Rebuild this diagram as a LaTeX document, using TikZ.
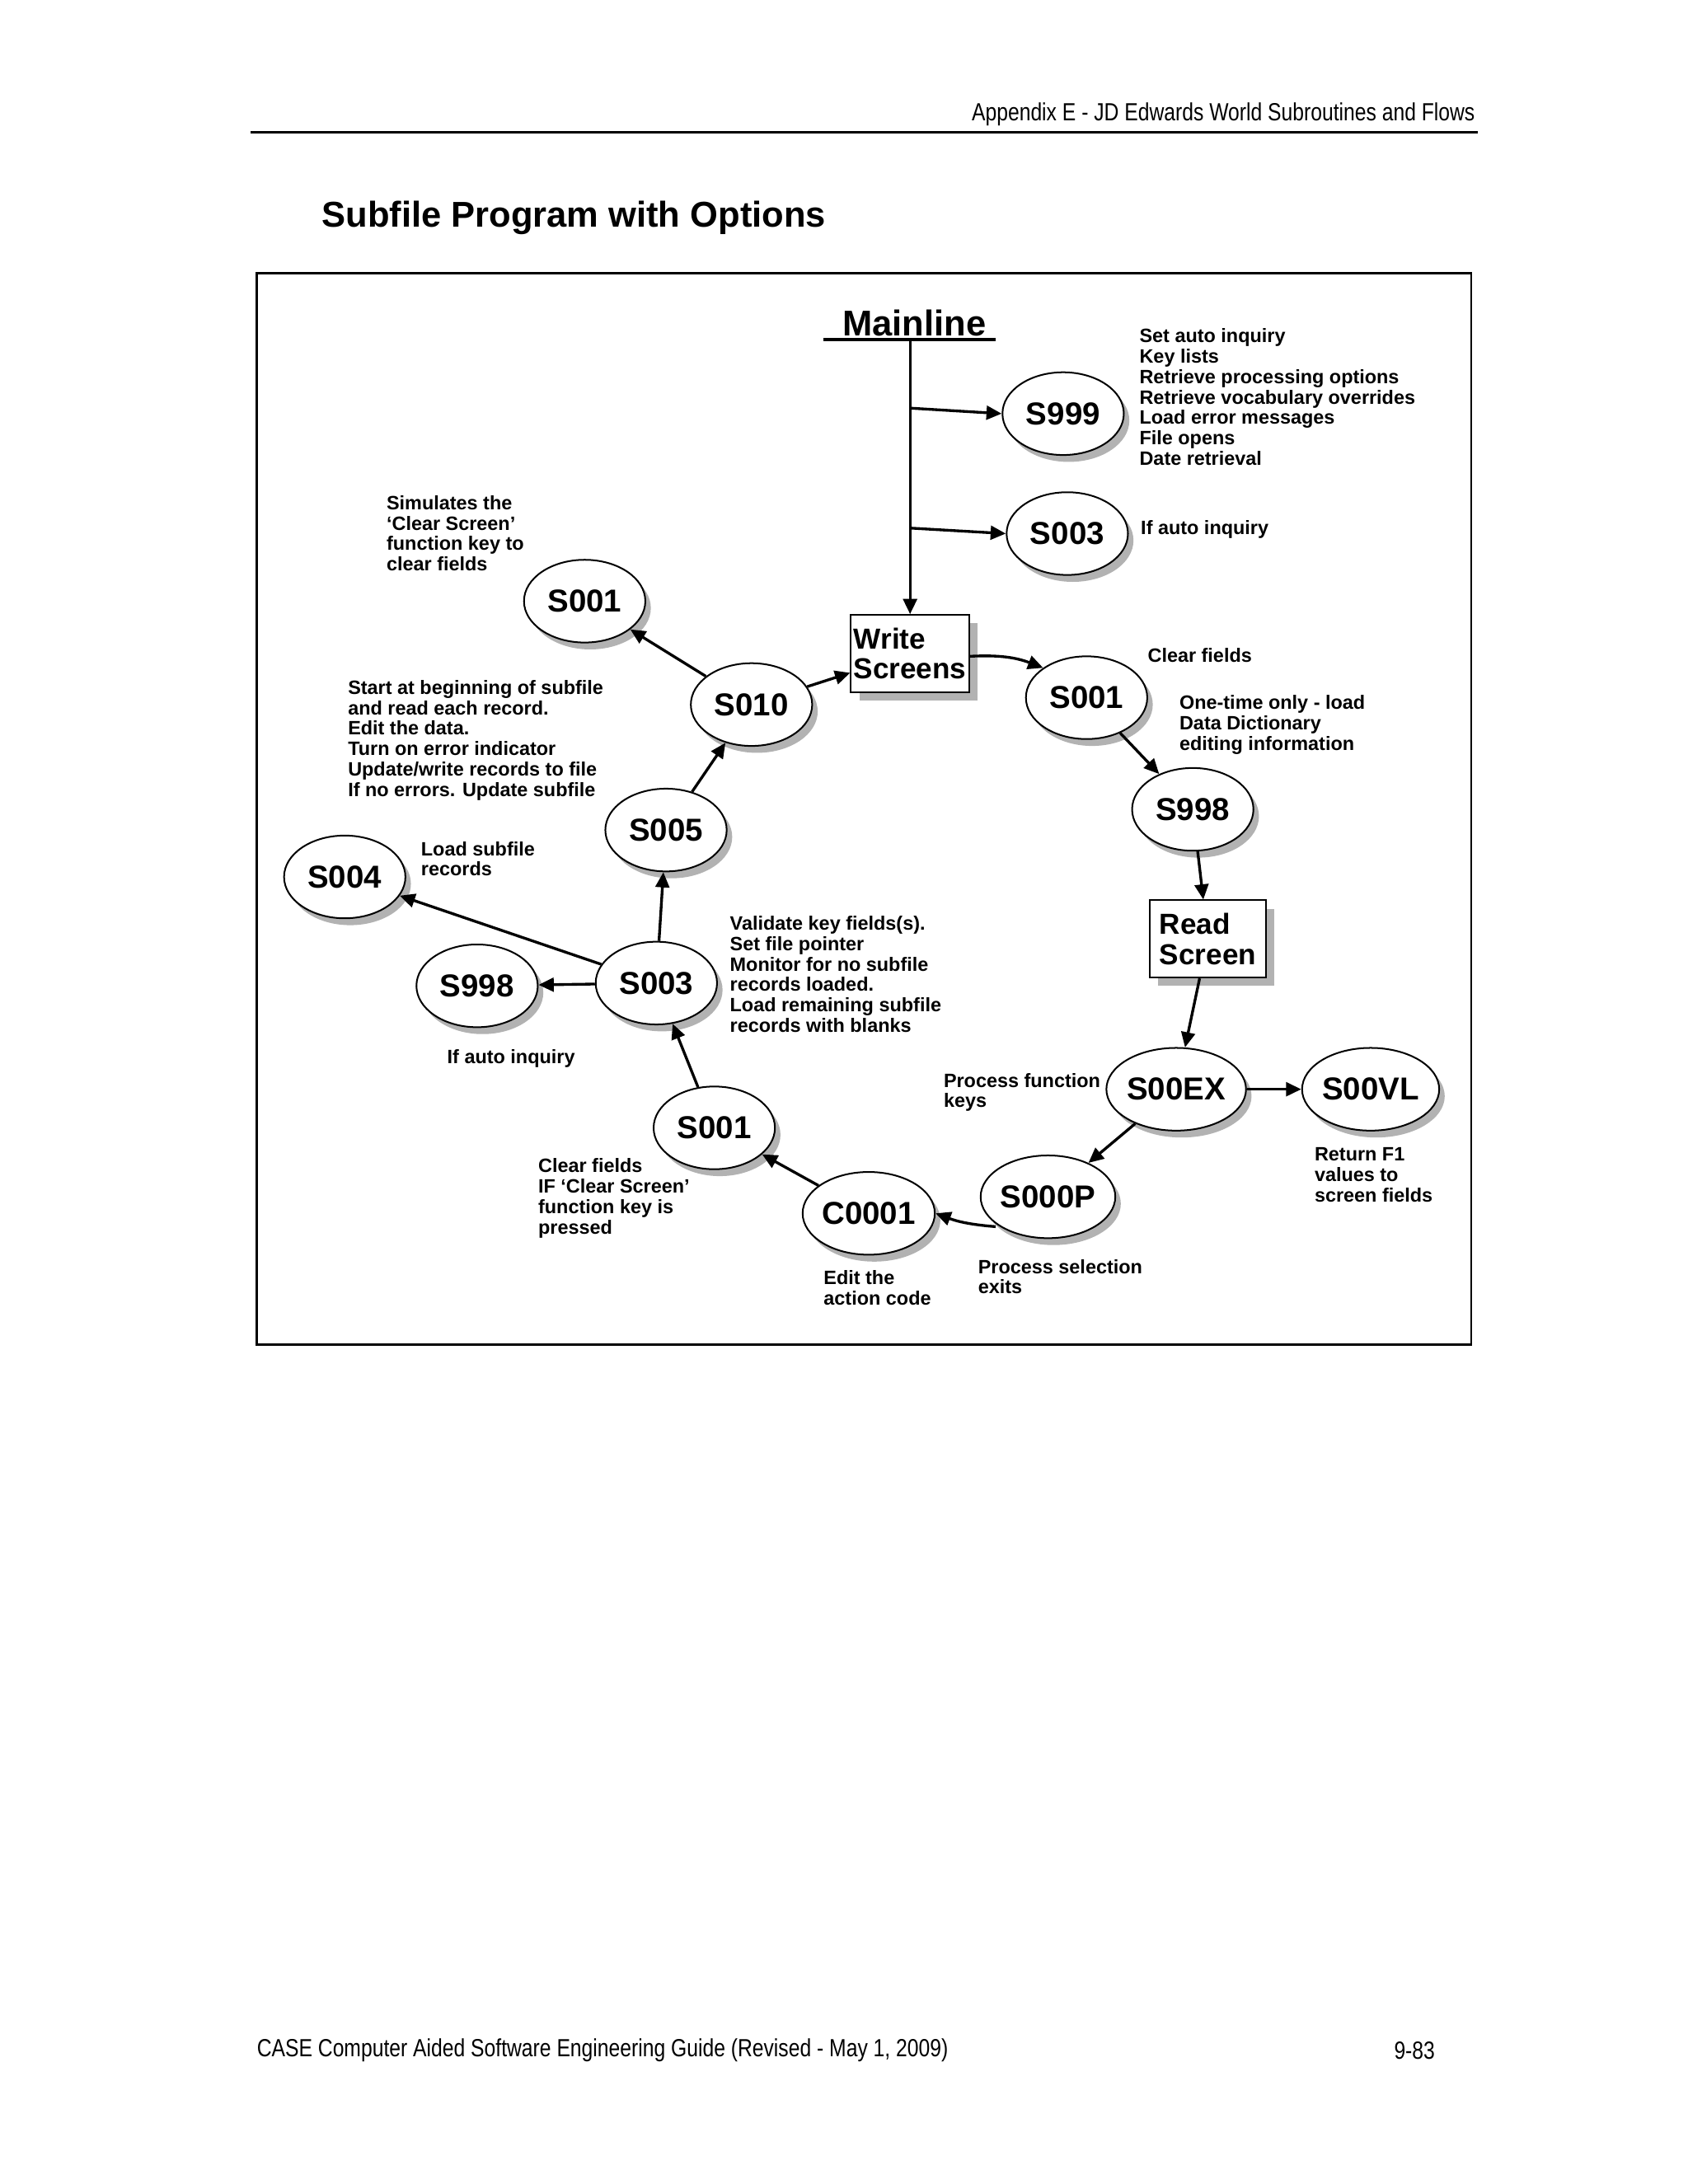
\documentclass[tikz,border=0pt]{standalone}
\usepackage{fontspec}
\setmainfont{Liberation Sans}
\usetikzlibrary{arrows.meta,shadows,shapes.geometric}
\begin{document}
\begin{tikzpicture}[x=0.5pt,y=-0.5pt,
  sub/.style={ellipse,draw,line width=0.6pt,fill=white,minimum width=44pt,minimum height=30pt,inner sep=0pt,
    font=\fontsize{11.5}{12}\selectfont\bfseries,
    drop shadow={shadow xshift=2pt,shadow yshift=-2.5pt,fill=black!30,opacity=1}},
  scr/.style={draw,line width=0.6pt,fill=white,minimum width=42pt,minimum height=28pt,inner sep=1pt,align=left,
    font=\fontsize{10.5}{11}\selectfont\bfseries,
    drop shadow={shadow xshift=3pt,shadow yshift=-3pt,fill=black!30,opacity=1}},
  note/.style={anchor=north west,align=left,inner sep=0pt,font=\fontsize{7}{7.4}\selectfont\bfseries},
  arr/.style={line width=1pt,-{Triangle[length=5.5pt,width=5pt]}}]
\useasboundingbox (0,0) rectangle (1224,1584);
% header/footer
\node[anchor=east,inner sep=0pt,font=\fontsize{9}{10}\selectfont] (hdr) at (1070,83) {\scalebox{0.82}[1]{Appendix E - JD Edwards World Subroutines and Flows}};
\draw[line width=0.8pt] (182,96) -- (1072,96);
\node[anchor=west,inner sep=0pt,font=\fontsize{13}{14}\selectfont\bfseries] (title) at (233,158) {Subfile Program with Options};
\draw[line width=0.8pt] (186,198) rectangle (1067,975);
\node[anchor=west,inner sep=0pt,font=\fontsize{9}{10}\selectfont] (ftr) at (186,1487) {\scalebox{0.82}[1]{CASE Computer Aided Software Engineering Guide (Revised - May 1, 2009)}};
\node[anchor=east,inner sep=0pt,font=\fontsize{9}{10}\selectfont] (pg) at (1041,1487) {\scalebox{0.82}[1]{9-83}};
% mainline
\node[inner sep=0pt,font=\fontsize{13}{14}\selectfont\bfseries] (main) at (663,234) {Mainline};
\draw[line width=1.2pt] (597,246) -- (722,246);
\coordinate (mtop) at (660,246);
\coordinate (b1) at (660,296);
\coordinate (b2) at (660,383);
% nodes
\node[sub] (s999) at (771,300) {S999};
\node[sub] (s003t) at (774,387) {S003};
\node[scr] (ws) at (660,474) {Write\\Screens};
\node[sub] (s001r) at (788,506) {S001};
\node[sub] (s998r) at (865,587) {S998};
\node[scr] (rs) at (876,681) {Read\\Screen};
\node[sub] (s00ex) at (853,790) {S00EX};
\node[sub] (s00vl) at (994,790) {S00VL};
\node[sub] (s000p) at (760,868) {S000P};
\node[sub] (c0001) at (630,880) {C0001};
\node[sub] (s001b) at (518,818) {S001};
\node[sub] (s003) at (476,713) {S003};
\node[sub] (s998l) at (346,715) {S998};
\node[sub] (s004) at (250,636) {S004};
\node[sub] (s005) at (483,602) {S005};
\node[sub] (s010) at (545,511) {S010};
\node[sub] (s001t) at (424,436) {S001};
% edges
\draw[line width=1pt] (mtop) -- (b2);
\draw[arr] (b2) -- (ws.north);
\draw[arr] (b1) -- (s999.west);
\draw[arr] (b2) -- (s003t.west);
\draw[arr] (ws.east) ++(0,2) to[bend left=12] (s001r.north west);
\draw[arr] (s001r) -- (s998r);
\draw[arr] (s998r) -- (rs);
\draw[arr] (rs) -- (s00ex);
\draw[arr] (s00ex) -- (s00vl);
\draw[arr] (s00ex) -- (s000p);
\draw[arr] (s000p.south west) ++(-3,0) to[bend left=8] (c0001.east);
\draw[arr] (c0001) -- (s001b);
\draw[arr] (s001b) -- (s003);
\draw[arr] (s003) -- (s998l);
\draw[arr] (s003) -- (s004);
\draw[arr] (s003) -- (s005);
\draw[arr] (s005) -- (s010);
\draw[arr] (s010) -- (s001t);
\draw[arr] (s010) -- (ws);
% notes
\node[note] (n1) at (826,238) {Set auto inquiry\\Key lists\\Retrieve processing options\\Retrieve vocabulary overrides\\Load error messages\\File opens\\Date retrieval};
\node[note] (n2) at (827,377) {If auto inquiry};
\node[note] (n3) at (280,359) {Simulates the\\`Clear Screen'\\function key to\\clear fields};
\node[note] (n4) at (832,470) {Clear fields};
\node[note] (n5) at (855,504) {One-time only - load\\Data Dictionary\\editing information};
\node[note] (n6) at (252,493) {Start at beginning of subfile\\and read each record.\\Edit the data.\\Turn on error indicator\\Update/write records to file\\If no errors. Update subfile};
\node[note] (n7) at (305,610) {Load subfile\\records};
\node[note] (n8) at (529,664) {Validate key fields(s).\\Set file pointer\\Monitor for no subfile\\records loaded.\\Load remaining subfile\\records with blanks};
\node[note] (n9) at (324,761) {If auto inquiry};
\node[note] (n10) at (684,778) {Process function\\keys};
\node[note] (n11) at (953,832) {Return F1\\values to\\screen fields};
\node[note] (n12) at (709,913) {Process selection\\exits};
\node[note] (n13) at (597,921) {Edit the\\action code};
\node[note] (n14) at (390,840) {Clear fields\\IF `Clear Screen'\\function key is\\pressed};
\end{tikzpicture}
\end{document}
